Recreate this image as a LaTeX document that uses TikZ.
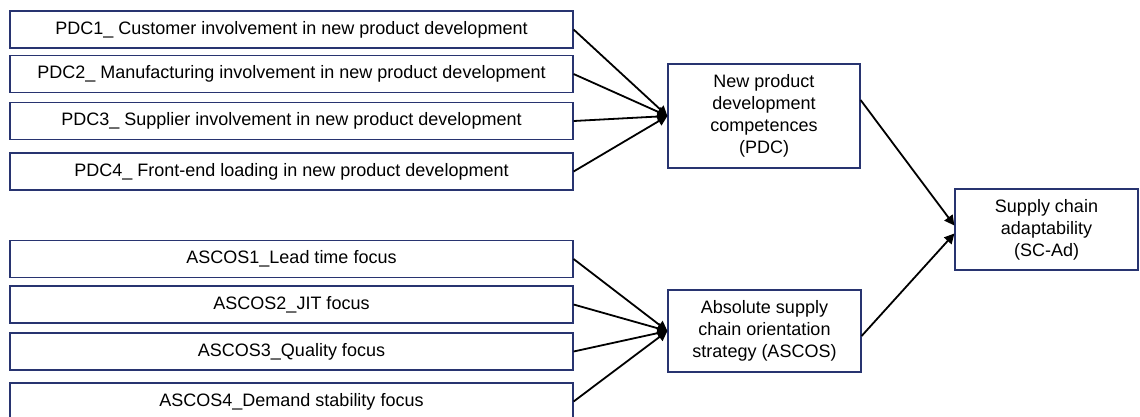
\documentclass[tikz,border=0pt]{standalone}
\usepackage{fontspec}
\setmainfont{Liberation Sans}
\usetikzlibrary{arrows.meta}
\definecolor{boxline}{RGB}{40,52,112}
\begin{document}
\begin{tikzpicture}[x=1pt,y=-1pt,
  every node/.style={font=\fontsize{18}{22}\selectfont},
  box/.style={draw=boxline, line width=1.2pt, rectangle, inner sep=0pt, align=center},
  item/.style={box, minimum width=563pt, minimum height=37pt},
  link/.style={-{Triangle[length=10pt,width=10pt]}, line width=1.8pt, draw=black}]
\useasboundingbox (0,0) rectangle (1140,416);
\clip (0,0) rectangle (1140,416);

% indicator boxes, upper group
\node[item] (pdc1) at (291.5,29.5)  {PDC1\_ Customer involvement in new product development};
\node[item] (pdc2) at (291.5,74)    {PDC2\_ Manufacturing involvement in new product development};
\node[item] (pdc3) at (291.5,121)   {PDC3\_ Supplier involvement in new product development};
\node[item] (pdc4) at (291.5,171.5) {PDC4\_ Front-end loading in new product development};

% indicator boxes, lower group
\node[item] (asc1) at (291.5,259)   {ASCOS1\_Lead time focus};
\node[item] (asc2) at (291.5,304.5) {ASCOS2\_JIT focus};
\node[item] (asc3) at (291.5,351.5) {ASCOS3\_Quality focus};
\node[item] (asc4) at (291.5,401.5) {ASCOS4\_Demand stability focus};

% constructs
\node[box, minimum width=192pt, minimum height=104pt] (pdc) at (764,116)
  {New product\\development\\competences\\(PDC)};
\node[box, minimum width=193pt, minimum height=82pt] (ascos) at (764.5,331)
  {Absolute supply\\chain orientation\\strategy (ASCOS)};
\node[box, minimum width=183pt, minimum height=81pt] (scad) at (1046.5,229.5)
  {Supply chain\\adaptability\\(SC-Ad)};

% links
\foreach \n in {pdc1,pdc2,pdc3,pdc4}
  \draw[link] (\n.east) -- (pdc.west);
\foreach \n in {asc1,asc2,asc3,asc4}
  \draw[link] (\n.east) -- (ascos.west);
\draw[link] ([yshift=16pt]pdc.east) -- ([yshift=4pt]scad.west);
\draw[link] ([yshift=-5pt]ascos.east) -- ([yshift=-4pt]scad.west);
\end{tikzpicture}
\end{document}
